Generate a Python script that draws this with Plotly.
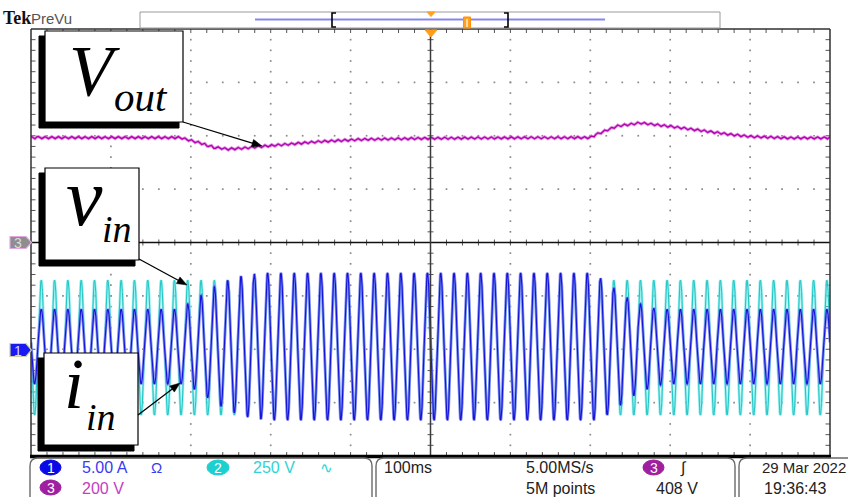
import numpy as np
import plotly.graph_objects as go

# ---------------- acquisition settings ----------------
time_per_div_ms = 100
ch1_scale_a = 5.0        # A/div
ch2_scale_v = 250.0      # V/div
ch3_scale_v = 200.0      # V/div
trigger_level_v = 408
sample_rate_txt = "5.00MS/s"
record_len_txt = "5M points"
date_txt = "29 Mar 2022"
clock_txt = "19:36:43"

# channel positions, divisions from screen centre
ch1_pos_div = -1.95
ch2_pos_div = -1.97
ch3_pos_div = 0.0

# ---------------- measured signals ----------------
line_freq_hz = 60.0
first_peak_ms = -487.2           # first crest of the line voltage on screen

# output voltage (ch3): slow level in volts at time breakpoints
vout_t_ms = [-500, -314, -289, -270, -254, -233, -208, -176, -139, -89, -14, 86,
             199, 218, 233, 262, 299, 337, 374, 399, 443, 500]
vout_level_v = [393, 393, 373, 356, 350, 354, 361, 369, 378, 386, 390, 392,
                393, 418, 436, 448, 435, 420, 405, 397, 392, 392]
vout_ripple_v = 4.5              # 120 Hz ripple amplitude

# input voltage (ch2) crest, V
vin_peak_v = 316.0

# input current (ch1) crest per line cycle, A (cycles -1 .. 59)
iin_peak_a = [3.5, 3.5, 3.5, 3.5, 3.5, 3.5, 3.5, 3.5, 3.5, 3.5, 3.5, 3.5,
              4.0, 4.8, 5.6, 6.2, 6.6, 6.8,
              6.9, 6.9, 6.9, 6.9, 6.9, 6.9, 6.9, 6.9, 6.9, 6.9, 6.9, 6.9,
              6.9, 6.9, 6.9, 6.9, 6.9, 6.9, 6.9, 6.9, 6.9, 6.9, 6.9, 6.9, 6.9,
              6.4, 5.5, 4.6, 4.0, 3.6,
              3.5, 3.5, 3.5, 3.5, 3.5, 3.5, 3.5, 3.5, 3.5, 3.5, 3.5, 3.5, 3.5]

# ---------------- screen geometry ----------------
W, H = 848, 497
GX0, GX1, GY0, GY1 = 31, 830, 29, 456
XMIN, XMAX = -5 * time_per_div_ms, 5 * time_per_div_ms
PXDIV = (GX1 - GX0) / 10.0
PYDIV = (GY1 - GY0) / 8.0


def PX(x):
    return x / W


def PY(y):
    return 1 - y / H


# ---------------- build waveforms ----------------
t = np.linspace(XMIN, XMAX, 16001)
period_ms = 1000.0 / line_freq_hz
cyc = (t - first_peak_ms) / period_ms
phase = 2 * np.pi * cyc
k = np.floor(cyc + 0.25).astype(int) + 1
k = np.clip(k, 0, len(iin_peak_a) - 1)
amp_i = np.asarray(iin_peak_a)[k]

iin_div = amp_i * np.cos(phase) / ch1_scale_a + ch1_pos_div
vin_div = vin_peak_v * np.cos(phase) / ch2_scale_v + ch2_pos_div
vout = np.interp(t, vout_t_ms, vout_level_v) + vout_ripple_v * np.cos(2 * phase + np.pi)
vout_div = vout / ch3_scale_v + ch3_pos_div

fig = go.Figure()

# ---------------- graticule ----------------
dot_x, dot_y = [], []
for gx in range(-4, 5):
    if gx == 0:
        continue
    for j in range(-19, 20):
        dot_x.append(gx * time_per_div_ms)
        dot_y.append(j * 0.2)
for gy in range(-3, 4):
    if gy == 0:
        continue
    for j in range(-24, 25):
        dot_x.append(j * 0.2 * time_per_div_ms)
        dot_y.append(gy)
fig.add_trace(go.Scatter(x=dot_x, y=dot_y, mode="markers",
                         marker=dict(size=1.7, color="#8a8a8a", symbol="square"),
                         hoverinfo="skip"))

tick_x, tick_y = [], []
hx = 3.0 / PXDIV * time_per_div_ms   # 3 px in ms
hy = 3.0 / PYDIV                     # 3 px in div
bx = 4.5 / PXDIV * time_per_div_ms
by = 4.0 / PYDIV
for j in range(-19, 20):
    y = j * 0.2
    tick_x += [-hx, hx, None, XMIN, XMIN + bx, None, XMAX - bx, XMAX, None]
    tick_y += [y, y, None, y, y, None, y, y, None]
for j in range(-24, 25):
    x = j * 0.2 * time_per_div_ms
    tick_x += [x, x, None, x, x, None, x, x, None]
    tick_y += [-hy, hy, None, 4, 4 - by, None, -4, -4 + by, None]
fig.add_trace(go.Scatter(x=tick_x, y=tick_y, mode="lines",
                         line=dict(color="#555555", width=1), hoverinfo="skip"))

# ch3 reference / horizontal centre line
fig.add_trace(go.Scatter(x=[XMIN, XMAX], y=[0, 0], mode="lines",
                         line=dict(color="#111111", width=1.5), hoverinfo="skip"))

# ---------------- waveforms ----------------
fig.add_trace(go.Scatter(x=t, y=vin_div, mode="lines",
                         line=dict(color="rgba(110,232,232,0.7)", width=2.6), hoverinfo="skip"))
fig.add_trace(go.Scatter(x=t, y=vin_div, mode="lines",
                         line=dict(color="#22c4c4", width=1.0), hoverinfo="skip"))
fig.add_trace(go.Scatter(x=t, y=iin_div, mode="lines",
                         line=dict(color="rgba(120,120,240,0.8)", width=2.8), hoverinfo="skip"))
fig.add_trace(go.Scatter(x=t, y=iin_div, mode="lines",
                         line=dict(color="#1414d8", width=1.1), hoverinfo="skip"))
fig.add_trace(go.Scatter(x=t, y=vout_div, mode="lines",
                         line=dict(color="rgba(215,110,215,0.75)", width=3.0), hoverinfo="skip"))
fig.add_trace(go.Scatter(x=t, y=vout_div, mode="lines",
                         line=dict(color="#b000b0", width=1.3), hoverinfo="skip"))

# vertical centre line on top of the traces
fig.add_trace(go.Scatter(x=[0, 0], y=[-4, 4], mode="lines",
                         line=dict(color="#3a3a3a", width=1.5), hoverinfo="skip"))

shapes = []
annotations = []


def rect(x0, y0, x1, y1, **kw):
    shapes.append(dict(type="rect", xref="paper", yref="paper",
                       x0=PX(x0), x1=PX(x1), y0=PY(y1), y1=PY(y0), **kw))


def line(x0, y0, x1, y1, color, width):
    shapes.append(dict(type="line", xref="paper", yref="paper",
                       x0=PX(x0), x1=PX(x1), y0=PY(y0), y1=PY(y1),
                       line=dict(color=color, width=width)))


def poly(points, closed=True, **kw):
    d = "M " + " L ".join(f"{PX(x):.5f},{PY(y):.5f}" for x, y in points)
    if closed:
        d += " Z"
    shapes.append(dict(type="path", xref="paper", yref="paper", path=d, **kw))


def ellipse(x0, y0, x1, y1, color):
    shapes.append(dict(type="circle", xref="paper", yref="paper",
                       x0=PX(x0), x1=PX(x1), y0=PY(y1), y1=PY(y0),
                       fillcolor=color, line=dict(color=color, width=1)))


def text(x, y, s, size, color, family, xanchor="left", italic=False, bold=False):
    font = dict(size=size, color=color, family=family)
    if italic:
        font["style"] = "italic"
    if bold:
        font["weight"] = "bold"
    annotations.append(dict(x=PX(x), y=PY(y), xref="paper", yref="paper",
                            text=s, showarrow=False, xanchor=xanchor, yanchor="middle",
                            font=font))


def arrow(x_tail, y_tail, x_head, y_head, head_len=10.0, head_half=3.8):
    dx, dy = x_head - x_tail, y_head - y_tail
    n = (dx * dx + dy * dy) ** 0.5
    ux, uy = dx / n, dy / n
    bx_, by_ = x_head - ux * head_len, y_head - uy * head_len
    line(x_tail, y_tail, bx_ + ux * 1.5, by_ + uy * 1.5, "black", 1.3)
    poly([(x_head, y_head), (bx_ - uy * head_half, by_ + ux * head_half),
          (bx_ + uy * head_half, by_ - ux * head_half)],
         fillcolor="black", line=dict(color="black", width=0.5))


NARROW = "Liberation Sans Narrow, Arial Narrow, Liberation Sans, sans-serif"
SERIF = "Liberation Serif, Times New Roman, serif"

# frame
line(GX0, GY0, GX1, GY0, "#303030", 1.3)
line(GX0, GY0, GX0, GY1, "#303030", 1.5)
line(GX1, GY0, GX1, GY1, "#303030", 1.5)
line(GX0 - 1, GY1 + 0.5, GX1 + 1, GY1 + 0.5, "#000000", 3.5)

# trigger position marker
poly([(425, 30), (437, 30), (431, 37)], fillcolor="#ff9d1a", line=dict(color="#ff9d1a", width=1))

# record overview strip
rect(140, 12, 720, 28, line=dict(color="#9a9a9a", width=1))
line(255, 19.5, 605, 19.5, "#8585f2", 2)
poly([(336, 13), (332, 13), (332, 27), (336, 27)], closed=False, line=dict(color="black", width=1.6))
poly([(504, 13), (508, 13), (508, 27), (504, 27)], closed=False, line=dict(color="black", width=1.6))
poly([(427, 12), (435, 12), (431, 16.5)], fillcolor="#ffa020", line=dict(color="#ffa020", width=1))
rect(463.5, 17, 470.5, 28, fillcolor="#ffa020", line=dict(color="#ff9000", width=1))
line(467, 19, 467, 27, "white", 1.2)
text(1, 18.5, "Tek", 18, "#111111", SERIF, bold=True)
text(29, 18.5, "PreVu", 15, "#555555", NARROW)

# channel position markers
poly([(10, 236.5), (26, 236.5), (31.5, 242.5), (26, 248.5), (10, 248.5)],
     fillcolor="#8e8e8e", line=dict(color="#e2a6e2", width=1.2))
text(18, 243, "3", 14, "#dcdcdc", NARROW, xanchor="center")
poly([(10, 343.5), (26, 343.5), (31.5, 350), (26, 356.5), (10, 356.5)],
     fillcolor="#1a1af5", line=dict(color="#cfcf9a", width=1.2))
text(18, 350.5, "1", 14, "#d8d8ff", NARROW, xanchor="center")

# signal labels with drop shadows
for (x0, y0, x1, y1) in [(45, 31, 183, 122), (45, 168, 139, 260), (44, 353, 138, 445)]:
    rect(x0 - 6, y0 + 5, x1 - 4, y1 + 6, fillcolor="black", line=dict(color="black", width=1))
    rect(x0, y0, x1, y1, fillcolor="white", line=dict(color="black", width=1.2))

text(67, 71, "V", 72, "black", SERIF, italic=True)
text(112, 97, "out", 41, "black", SERIF, italic=True)
text(84, 197, "v", 82, "black", SERIF, xanchor="center", italic=True)
text(117, 229, "in", 38, "black", SERIF, xanchor="center", italic=True)
text(74, 384, "i", 72, "black", SERIF, xanchor="center", italic=True)
text(101, 417, "in", 38, "black", SERIF, xanchor="center", italic=True)

arrow(183, 122, 262, 146)
arrow(139, 259, 187, 285)
arrow(138, 415, 180, 383)


# status bar
def status_box(x0, x1, y0=458, r=8):
    d = (f"M {PX(x0)},{PY(505)} L {PX(x0)},{PY(y0 + r)} Q {PX(x0)},{PY(y0)} {PX(x0 + r)},{PY(y0)} "
         f"L {PX(x1 - r)},{PY(y0)} Q {PX(x1)},{PY(y0)} {PX(x1)},{PY(y0 + r)} L {PX(x1)},{PY(505)}")
    shapes.append(dict(type="path", xref="paper", yref="paper", path=d,
                       line=dict(color="#6a6a6a", width=1.4)))


status_box(30, 372)
status_box(376, 735)
status_box(739, 870)

R1, R2 = 467.5, 488
ellipse(40, 460, 61, 475, "#0a0ae6")
text(50.5, R1, "1", 14, "white", NARROW, xanchor="center")
text(80, R1, f"{ch1_scale_a:.2f} A", 16, "#3a3af0", NARROW)
text(149, R1, "Ω", 15, "#3a3af0", NARROW)
ellipse(207, 460, 229, 475, "#1cd0d0")
text(218, R1, "2", 14, "white", NARROW, xanchor="center")
text(251, R1, f"{ch2_scale_v:.0f} V", 16, "#2ed4d4", NARROW)
text(318, R1, "∿", 15, "#2ed4d4", NARROW)
ellipse(40, 480, 61, 495, "#a01ea0")
text(50.5, R2, "3", 14, "white", NARROW, xanchor="center")
text(80, R2, f"{ch3_scale_v:.0f} V", 16, "#c23ec2", NARROW)

text(382, R1, f"{time_per_div_ms}ms", 16, "#222222", NARROW)
text(524, R1, sample_rate_txt, 16, "#222222", NARROW)
text(524, R2, record_len_txt, 16, "#222222", NARROW)
ellipse(643, 460, 664, 475, "#a01ea0")
text(653.5, R1, "3", 14, "white", NARROW, xanchor="center")
text(678, R1, "∫", 16, "#222222", NARROW)
text(654, R2, f"{trigger_level_v} V", 16, "#222222", NARROW)
text(760, R1, date_txt, 15, "#222222", NARROW)
text(762, R2, clock_txt, 16, "#222222", NARROW)

fig.update_layout(
    width=W, height=H,
    margin=dict(l=0, r=0, t=0, b=0),
    paper_bgcolor="white", plot_bgcolor="white",
    showlegend=False,
    xaxis=dict(domain=[GX0 / W, GX1 / W], range=[XMIN, XMAX], visible=False, fixedrange=True),
    yaxis=dict(domain=[1 - GY1 / H, 1 - GY0 / H], range=[-4, 4], visible=False, fixedrange=True),
    shapes=shapes,
    annotations=annotations,
)

fig.write_html("out.html", config={"displayModeBar": False})
